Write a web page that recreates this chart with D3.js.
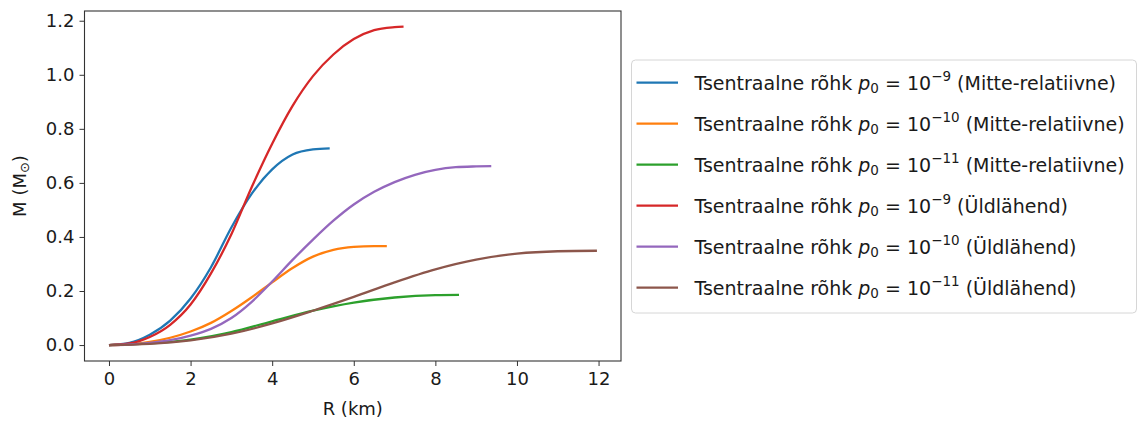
<!DOCTYPE html>
<html>
<head>
<meta charset="utf-8">
<script src="https://cdn.jsdelivr.net/npm/d3@7"></script>
<style>
  body { margin: 0; background: #fff; }
  text { font-family: "DejaVu Sans", sans-serif; fill: #1a1a1a; }
</style>
</head>
<body>
<script>
var width = 1138,
    height = 422,
    margin = {top: 11, right: 517, bottom: 61, left: 84.5},
    fs = 18;

// series: R (km) and M (M_sun)
var blueR   = [0, 0.5, 1, 1.5, 2, 2.5, 3, 3.5, 4, 4.5, 5, 5.41];
var blueM   = [0, 0.008, 0.038, 0.09, 0.172, 0.288, 0.435, 0.56, 0.65, 0.705, 0.724, 0.728];
var orangeR = [0, 0.5, 1, 1.5, 2, 2.5, 3, 3.5, 4, 4.5, 5, 5.5, 6, 6.5, 6.81];
var orangeM = [0, 0.003, 0.012, 0.027, 0.05, 0.082, 0.126, 0.177, 0.232, 0.285, 0.327, 0.352, 0.363, 0.366, 0.366];
var greenR  = [0, 1, 2, 3, 4, 5, 6, 7, 8, 8.58];
var greenM  = [0, 0.006, 0.02, 0.048, 0.088, 0.127, 0.157, 0.176, 0.185, 0.186];
var redR    = [0, 0.5, 1, 1.5, 2, 2.5, 3, 3.5, 4, 4.5, 5, 5.5, 6, 6.5, 7, 7.22];
var redM    = [0, 0.006, 0.03, 0.075, 0.15, 0.265, 0.41, 0.585, 0.745, 0.885, 0.995, 1.075, 1.132, 1.165, 1.176, 1.178];
var purpleR = [0, 0.5, 1, 1.5, 2, 2.5, 3, 3.5, 4, 4.5, 5, 5.5, 6, 6.5, 7, 7.5, 8, 8.5, 9, 9.37];
var purpleM = [0, 0.002, 0.008, 0.018, 0.035, 0.06, 0.1, 0.16, 0.235, 0.315, 0.39, 0.46, 0.52, 0.567, 0.603, 0.63, 0.648, 0.658, 0.661, 0.662];
var brownR  = [0, 1, 2, 3, 4, 5, 6, 7, 8, 9, 10, 11, 11.96];
var brownM  = [0, 0.004, 0.017, 0.042, 0.08, 0.127, 0.178, 0.232, 0.28, 0.316, 0.338, 0.347, 0.349];

var colors = ["#1f77b4", "#ff7f0e", "#2ca02c", "#d62728", "#9467bd", "#8c564b"];
var exponents = ["9", "10", "11", "9", "10", "11"];
var models = ["(Mitte-relatiivne)", "(Mitte-relatiivne)", "(Mitte-relatiivne)",
              "(Üldlähend)", "(Üldlähend)", "(Üldlähend)"];
var xTicks = [0, 2, 4, 6, 8, 10, 12];
var yTicks = [0.0, 0.2, 0.4, 0.6, 0.8, 1.0, 1.2];

var seriesR = [blueR, orangeR, greenR, redR, purpleR, brownR],
    seriesM = [blueM, orangeM, greenM, redM, purpleM, brownM];

var series = seriesR.map(function(rs, i) {
    return rs.map(function(r, j) { return [r, seriesM[i][j]]; });
});

var iw = width - margin.left - margin.right,
    ih = height - margin.top - margin.bottom;

var svg = d3.select("body").append("svg")
    .attr("width", width)
    .attr("height", height);

var g = svg.append("g")
    .attr("transform", "translate(" + [margin.left, margin.top] + ")");

var x = d3.scaleLinear().domain([-0.6, 12.55]).range([0, iw]);
var y = d3.scaleLinear().domain([-0.059, 1.236]).range([ih, 0]);

var line = d3.line()
    .x(function(d) { return x(d[0]); })
    .y(function(d) { return y(d[1]); })
    .curve(d3.curveMonotoneX);

g.selectAll("path.series")
    .data(series)
    .enter().append("path")
    .attr("class", "series")
    .attr("fill", "none")
    .attr("stroke", function(d, i) { return colors[i]; })
    .attr("stroke-width", 2.3)
    .attr("d", line);

var xAxis = g.append("g")
    .attr("transform", "translate(0," + ih + ")")
    .call(d3.axisBottom(x).tickValues(xTicks).tickSize(5).tickPadding(6)
        .tickFormat(d3.format("d")));

var yAxis = g.append("g")
    .call(d3.axisLeft(y).tickValues(yTicks).tickSize(5).tickPadding(5)
        .tickFormat(d3.format(".1f")));

[xAxis, yAxis].forEach(function(a) {
    a.select(".domain").remove();
    a.selectAll(".tick line").attr("stroke", "#333").attr("stroke-width", 1);
    a.selectAll(".tick text")
        .style("font-family", "DejaVu Sans")
        .style("font-size", fs + "px")
        .attr("fill", "#1a1a1a");
});

g.append("rect")
    .attr("width", iw)
    .attr("height", ih)
    .attr("fill", "none")
    .attr("stroke", "#333")
    .attr("stroke-width", 1.1);

svg.append("text")
    .attr("x", margin.left + iw / 2)
    .attr("y", 415)
    .attr("text-anchor", "middle")
    .style("font-size", fs + "px")
    .text("R (km)");

var yl = svg.append("text")
    .attr("transform", "translate(26," + (margin.top + ih / 2) + ") rotate(-90)")
    .attr("text-anchor", "middle")
    .style("font-size", fs + "px");
yl.append("tspan").text("M (M");
yl.append("tspan").attr("dy", 3).style("font-size", "13px").text("⊙");
yl.append("tspan").attr("dy", -3).text(")");

// legend
var lg = svg.append("g").attr("transform", "translate(631.5,60)");
lg.append("rect")
    .attr("width", 505)
    .attr("height", 253)
    .attr("rx", 4)
    .attr("fill", "#fff")
    .attr("fill-opacity", 0.8)
    .attr("stroke", "#d6d6d6");

var rows = lg.selectAll("g.row")
    .data(colors)
    .enter().append("g")
    .attr("class", "row")
    .attr("transform", function(d, i) { return "translate(0," + (22.7 + i * 41) + ")"; });

rows.append("line")
    .attr("x1", 5).attr("x2", 46.5)
    .attr("stroke", function(d) { return d; })
    .attr("stroke-width", 2.3);

var lt = rows.append("text")
    .attr("x", 63)
    .attr("y", 7)
    .style("font-size", "19px");
lt.append("tspan").text("Tsentraalne rõhk ");
lt.append("tspan").style("font-style", "italic").text("p");
lt.append("tspan").attr("dy", 3.5).style("font-size", "13.5px").text("0");
lt.append("tspan").attr("dy", -3.5).text(" = 10");
lt.append("tspan").attr("dy", -8.5).style("font-size", "13.5px")
    .text(function(d, i) { return "−" + exponents[i]; });
lt.append("tspan").attr("dy", 8.5)
    .text(function(d, i) { return " " + models[i]; });
</script>
</body>
</html>
